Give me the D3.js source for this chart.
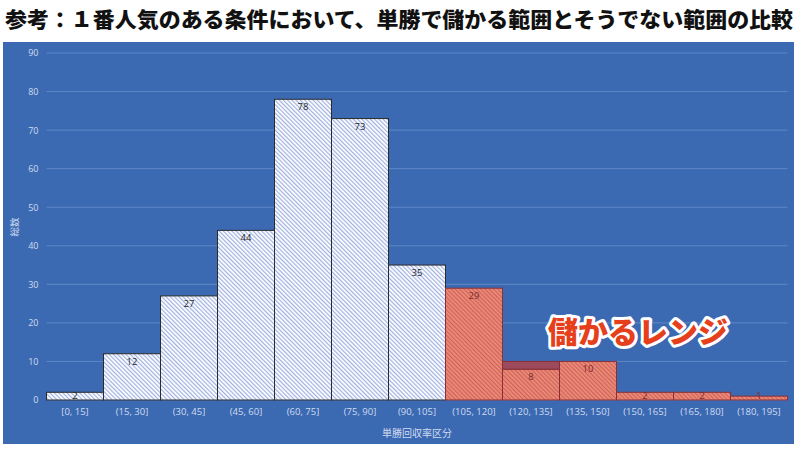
<!DOCTYPE html>
<html>
<head>
<meta charset="utf-8">
<script src="https://cdn.jsdelivr.net/npm/d3@7"></script>
<style>
  body { margin: 0; background: #fff; }
  svg { display: block; }
</style>
</head>
<body>
<script>
// histogram of win-payout ranges for favourites
var bins = ["[0, 15]", "(15, 30]", "(30, 45]", "(45, 60]", "(60, 75]", "(75, 90]", "(90, 105]",
            "(105, 120]", "(120, 135]", "(135, 150]", "(150, 165]", "(165, 180]", "(180, 195]"];
var counts = [2, 12, 27, 44, 78, 73, 35, 29, 8, 10, 2, 2, 1];
var extra = [0, 0, 0, 0, 0, 0, 0, 0, 2, 0, 0, 0, 0];   // darker band stacked on (120,135]
var profitFrom = 7;   // index where the profitable range starts
var yTicks = [0, 10, 20, 30, 40, 50, 60, 70, 80, 90];

var w = 800, h = 455;
// note: "top" is taken by window.top, so plot edges get their own names
var plotLeft = 46.5, plotRight = 787.5, plotTop = 53, plotBottom = 400;

var svg = d3.select("body").append("svg")
  .attr("width", w)
  .attr("height", h);

var defs = svg.append("defs");

function hatch(id, bg, line) {
  var p = defs.append("pattern")
    .attr("id", id)
    .attr("patternUnits", "userSpaceOnUse")
    .attr("width", 3).attr("height", 3)
    .attr("patternTransform", "rotate(-45)");
  p.append("rect").attr("width", 3).attr("height", 3).attr("fill", bg);
  p.append("rect").attr("x", 0).attr("width", 1.2).attr("height", 3).attr("fill", line);
}
hatch("blueHatch", "#ffffff", "#9eb0e0");
hatch("redHatch", "#eb8c78", "#d0625a");

// title
svg.append("text")
  .attr("x", 5).attr("y", 27)
  .attr("textLength", 788)
  .attr("lengthAdjust", "spacingAndGlyphs")
  .attr("font-family", "'Noto Sans CJK JP', sans-serif")
  .attr("font-weight", 900)
  .attr("font-size", "21px")
  .attr("fill", "#111")
  .text("参考：１番人気のある条件において、単勝で儲かる範囲とそうでない範囲の比較");

// blue panel
svg.append("rect")
  .attr("x", 3).attr("y", 42)
  .attr("width", 791).attr("height", 402)
  .attr("fill", "#3b6ab3");

var x = d3.scaleBand()
  .domain(bins)
  .range([plotLeft, plotRight])
  .padding(0);

var y = d3.scaleLinear()
  .domain([0, 90])
  .range([plotBottom, plotTop]);

// grid lines
svg.append("g")
  .selectAll("line")
  .data(yTicks)
  .enter()
  .append("line")
  .attr("x1", plotLeft).attr("x2", plotRight)
  .attr("y1", function(d) { return y(d); })
  .attr("y2", function(d) { return y(d); })
  .attr("stroke", "#5f87c6")
  .attr("stroke-width", 1);

// y axis labels
var yAxis = svg.append("g")
  .attr("transform", "translate(" + plotLeft + ",0)")
  .call(d3.axisLeft(y).tickValues(yTicks).tickSize(0).tickPadding(8));
yAxis.select(".domain").remove();
yAxis.selectAll("text")
  .attr("font-family", "'Open Sans', sans-serif")
  .attr("font-size", "9px")
  .attr("fill", "#d0dbef");

// x axis labels
var xAxis = svg.append("g")
  .attr("transform", "translate(0," + plotBottom + ")")
  .call(d3.axisBottom(x).tickSize(0).tickPadding(8));
xAxis.select(".domain").remove();
xAxis.selectAll("text")
  .attr("font-family", "'Open Sans', sans-serif")
  .attr("font-size", "9.5px")
  .attr("fill", "#d0dbef");

// bars
var bars = svg.append("g");
bars.selectAll("rect.bar")
  .data(counts)
  .enter()
  .append("rect")
  .attr("class", "bar")
  .attr("x", function(d, i) { return x(bins[i]); })
  .attr("y", function(d) { return y(d); })
  .attr("width", x.bandwidth())
  .attr("height", function(d) { return plotBottom - y(d); })
  .attr("fill", function(d, i) { return i >= profitFrom ? "url(#redHatch)" : "url(#blueHatch)"; })
  .attr("stroke", function(d, i) { return i >= profitFrom ? "#8a2f36" : "#2b2b2b"; })
  .attr("stroke-width", 1);

// darker stacked band
extra.forEach(function(d, i) {
  if (d <= 0) return;
  bars.append("rect")
    .attr("x", x(bins[i]))
    .attr("y", y(counts[i] + d))
    .attr("width", x.bandwidth())
    .attr("height", y(counts[i]) - y(counts[i] + d))
    .attr("fill", "#9c4a5c")
    .attr("stroke", "#8a2f36")
    .attr("stroke-width", 1);
});

// value labels
svg.append("g")
  .selectAll("text")
  .data(counts)
  .enter()
  .append("text")
  .attr("x", function(d, i) { return x(bins[i]) + x.bandwidth() / 2; })
  .attr("y", function(d) { return Math.min(y(d) + 11, 399); })
  .attr("text-anchor", "middle")
  .attr("font-family", "'Open Sans', sans-serif")
  .attr("font-size", "9.5px")
  .attr("fill", function(d, i) { return i >= profitFrom ? "#7a2a2e" : "#2a2a2a"; })
  .text(function(d) { return d; });

// axis titles
svg.append("text")
  .attr("x", (plotLeft + plotRight) / 2).attr("y", 437)
  .attr("text-anchor", "middle")
  .attr("font-family", "'Noto Sans CJK JP', sans-serif")
  .attr("font-size", "10px")
  .attr("fill", "#d0dbef")
  .text("単勝回収率区分");

svg.append("text")
  .attr("transform", "translate(18,227) rotate(-90)")
  .attr("text-anchor", "middle")
  .attr("font-family", "'Noto Sans CJK JP', sans-serif")
  .attr("font-size", "9.5px")
  .attr("fill", "#d0dbef")
  .text("総数");

// annotation
svg.append("text")
  .attr("x", 638).attr("y", 343)
  .attr("text-anchor", "middle")
  .attr("font-family", "'Noto Sans CJK JP', sans-serif")
  .attr("font-weight", 900)
  .attr("font-size", "30px")
  .attr("fill", "#e63f1c")
  .attr("stroke", "#ffffff")
  .attr("stroke-width", 6)
  .attr("stroke-linejoin", "round")
  .attr("paint-order", "stroke")
  .text("儲かるレンジ");
</script>
</body>
</html>
